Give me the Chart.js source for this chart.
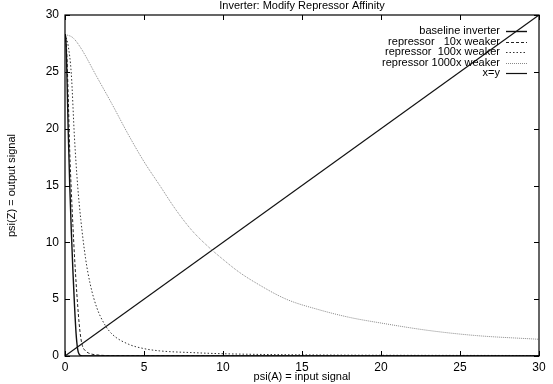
<!DOCTYPE html>
<html>
<head>
<meta charset="utf-8">
<script src="https://cdn.jsdelivr.net/npm/chart.js@4.4.1/dist/chart.umd.min.js"></script>
<style>
  html, body { margin: 0; padding: 0; background: #fff; }
  #wrap { width: 553px; height: 384px; position: relative; }
</style>
</head>
<body>
<div id="wrap"><canvas id="chart"></canvas></div>
<script>
// ==========================================
// DATA
// ==========================================
const titleText = 'Inverter: Modify Repressor Affinity';
const xTicks = [0, 5, 10, 15, 20, 25, 30];
const yTicks = [0, 5, 10, 15, 20, 25, 30];

const baseX = [0, 0.05, 0.1, 0.2, 0.3, 0.4, 0.5, 0.6, 0.7, 0.8, 0.9, 1.0, 1.2, 30];
const baseY = [28.3, 28, 26, 20, 15, 11, 7.5, 4.5, 2, 0.6, 0.15, 0.03, 0, 0];

const weak10X = [0, 0.1, 0.2, 0.3, 0.4, 0.5, 0.6, 0.7, 0.8, 0.9, 1.0, 1.1, 1.3, 1.6, 2.0, 3.0, 30];
const weak10Y = [28.3, 27, 23, 18, 14.5, 11.5, 8.8, 6.5, 4.5, 2.8, 1.6, 0.9, 0.45, 0.2, 0.1, 0.03, 0];

const weak100X = [0, 0.2, 0.4, 0.6, 0.8, 1.0, 1.3, 1.6, 2.0, 2.5, 3, 4, 5, 6, 8, 10, 15, 30];
const weak100Y = [28.3, 27.3, 24.8, 19.2, 15, 12, 8.6, 6.3, 4.3, 2.8, 1.9, 1.05, 0.65, 0.45, 0.3, 0.2, 0.1, 0.04];

const weak1000X = [0, 0.5, 1, 2, 3, 4, 5, 6, 7, 8, 9, 10, 11, 12, 14, 16, 18, 20, 23, 26, 30];
const weak1000Y = [28.3, 28.0, 27.1, 24.6, 22.1, 19.5, 17.1, 15.0, 12.9, 11.1, 9.7, 8.5, 7.4, 6.5, 5.0, 4.1, 3.4, 2.9, 2.25, 1.8, 1.47];

const diagX = [0, 30];
const diagY = [0, 30];

const labels = [
    "baseline inverter",
    "repressor   10x weaker",
    "repressor  100x weaker",
    "repressor 1000x weaker",
    "x=y"
];

const toPts = (xs, ys) => xs.map((x, i) => ({ x: x, y: ys[i] }));

// ==========================================
// PLUGINS: title, gnuplot style box, inward ticks, legend
// ==========================================
const boxPlugin = {
    id: 'box',
    afterDraw(chart) {
        const { ctx, chartArea: a, scales } = chart;
        ctx.save();

        // title centred over the plot
        ctx.font = '11px "Liberation Sans", Arial, sans-serif';
        ctx.fillStyle = '#000';
        ctx.textAlign = 'center';
        ctx.textBaseline = 'middle';
        ctx.fillText(titleText, (a.left + a.right) / 2, 5.5);

        ctx.strokeStyle = '#000';
        ctx.lineWidth = 1.2;
        ctx.strokeRect(a.left, a.top, a.right - a.left, a.bottom - a.top);
        ctx.lineWidth = 1;
        const len = 5;
        xTicks.forEach(v => {
            const px = Math.round(scales.x.getPixelForValue(v)) + 0.5;
            ctx.beginPath();
            ctx.moveTo(px, a.bottom); ctx.lineTo(px, a.bottom - len);
            ctx.moveTo(px, a.top); ctx.lineTo(px, a.top + len);
            ctx.stroke();
        });
        yTicks.forEach(v => {
            const py = Math.round(scales.y.getPixelForValue(v)) + 0.5;
            ctx.beginPath();
            ctx.moveTo(a.left, py); ctx.lineTo(a.left + len, py);
            ctx.moveTo(a.right, py); ctx.lineTo(a.right - len, py);
            ctx.stroke();
        });

        // legend, text right aligned, sample to the right
        ctx.textAlign = 'right';
        chart.data.datasets.forEach((ds, i) => {
            const y = 31 + i * 10.5;
            ctx.fillStyle = '#000';
            ctx.fillText(ds.label, 500, y);
            ctx.beginPath();
            ctx.strokeStyle = ds.borderColor;
            ctx.lineWidth = ds.borderWidth;
            ctx.setLineDash(ds.borderDash || []);
            ctx.moveTo(506, Math.round(y) + 0.5);
            ctx.lineTo(527, Math.round(y) + 0.5);
            ctx.stroke();
            ctx.setLineDash([]);
        });
        ctx.restore();
    }
};

// ==========================================
// CHART
// ==========================================
const font = { family: '"Liberation Sans", Arial, sans-serif', size: 11 };
const tickFont = { family: '"Liberation Sans", Arial, sans-serif', size: 12 };

new Chart(document.getElementById('chart'), {
    type: 'scatter',
    data: {
        datasets: [
            { label: labels[0], data: toPts(baseX, baseY), borderColor: '#111', borderWidth: 1.4 },
            { label: labels[1], data: toPts(weak10X, weak10Y), borderColor: '#222', borderWidth: 1, borderDash: [3, 2] },
            { label: labels[2], data: toPts(weak100X, weak100Y), borderColor: '#333', borderWidth: 1, borderDash: [1.5, 2] },
            { label: labels[3], data: toPts(weak1000X, weak1000Y), borderColor: '#888', borderWidth: 1, borderDash: [1, 1] },
            { label: labels[4], data: toPts(diagX, diagY), borderColor: '#111', borderWidth: 1.2 }
        ].map(d => ({ ...d, showLine: true, pointRadius: 0, cubicInterpolationMode: 'monotone', fill: false }))
    },
    options: {
        responsive: true,
        maintainAspectRatio: false,
        animation: false,
        layout: { padding: { top: 15, right: 14, bottom: 0, left: 0 } },
        plugins: {
            legend: { display: false },
            tooltip: { enabled: false },
            title: { display: false }
        },
        scales: {
            x: {
                type: 'linear', min: 0, max: 30,
                afterFit: s => { s.height = 28; },
                afterBuildTicks: s => { s.ticks = xTicks.map(v => ({ value: v })); },
                grid: { display: false, drawTicks: false },
                border: { display: false },
                ticks: { color: '#000', font: tickFont, padding: 4, maxRotation: 0 },
                title: { display: true, text: 'psi(A) = input signal', color: '#000', font: font, padding: 0 }
            },
            y: {
                type: 'linear', min: 0, max: 30,
                afterFit: s => { s.width = 65; },
                afterBuildTicks: s => { s.ticks = yTicks.map(v => ({ value: v })); },
                grid: { display: false, drawTicks: false },
                border: { display: false },
                ticks: { color: '#000', font: tickFont, padding: 6 },
                title: { display: true, text: 'psi(Z) = output signal', color: '#000', font: font, padding: { top: 5, bottom: 0 } }
            }
        }
    },
    plugins: [boxPlugin]
});
</script>
</body>
</html>
